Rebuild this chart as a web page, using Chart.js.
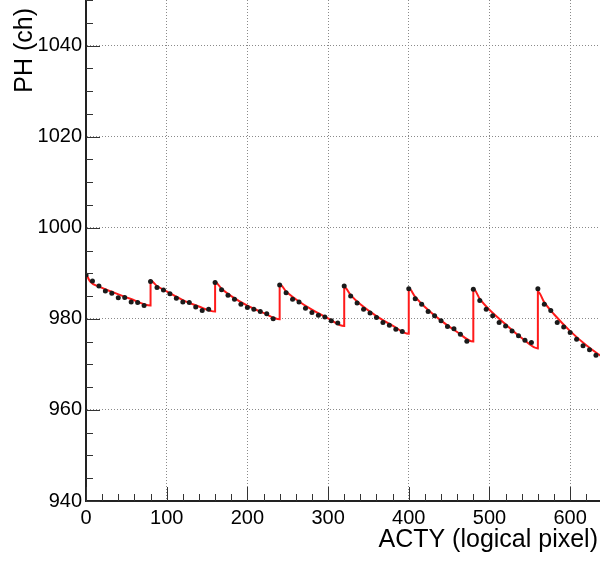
<!DOCTYPE html>
<html>
<head>
<meta charset="utf-8">
<script src="https://cdn.jsdelivr.net/npm/chart.js@4"></script>
<style>
  html, body { margin: 0; padding: 0; background: #fff; }
  #wrap { width: 600px; height: 561px; overflow: hidden; }
</style>
</head>
<body>
<div id="wrap"><canvas id="chart_ph" width="600" height="561"></canvas></div>
<script>
// Pulse height vs ACTY, measured points and the sawtooth fit

// Measured points (every 8 logical pixels)
const actyPoints = [
    0, 8, 16, 24, 32, 40, 48, 56, 64, 72,
    80, 88, 96, 104, 112, 120, 128, 136, 144, 152,
    160, 168, 176, 184, 192, 200, 208, 216, 224, 232,
    240, 248, 256, 264, 272, 280, 288, 296, 304, 312,
    320, 328, 336, 344, 352, 360, 368, 376, 384, 392,
    400, 408, 416, 424, 432, 440, 448, 456, 464, 472,
    480, 488, 496, 504, 512, 520, 528, 536, 544, 552,
    560, 568, 576, 584, 592, 600, 608, 616, 624, 632
];
const phPoints = [
    989.6, 988.3, 987.2, 986.1, 985.6, 984.6, 984.7, 983.7, 983.6, 982.9,
    988.2, 986.9, 986.3, 985.5, 984.5, 983.7, 983.6, 982.6, 981.8, 982.1,
    988.0, 986.4, 985.2, 984.3, 983.2, 982.5, 982.1, 981.6, 981.1, 980.0,
    987.4, 985.7, 984.3, 983.7, 982.3, 981.4, 980.8, 980.4, 979.6, 979.1,
    987.2, 985.0, 983.5, 982.1, 981.3, 980.3, 979.2, 978.6, 977.7, 977.2,
    986.6, 984.4, 983.2, 981.6, 980.7, 979.6, 978.3, 977.8, 976.6, 975.1,
    986.5, 984.0, 982.1, 980.7, 979.2, 978.4, 977.3, 976.3, 975.3, 974.8,
    986.6, 983.2, 981.8, 979.2, 978.2, 977.0, 975.5, 974.1, 973.2, 972.0
];

// Fit curve (red), one decay per 80 pixel block with a jump at each block edge
const actyFit = [
    0, 5, 17, 34, 55, 80,
    80, 88, 100, 120, 140, 160,
    160, 168, 180, 200, 220, 240,
    240, 248, 260, 280, 300, 320,
    320, 328, 340, 360, 380, 400,
    400, 408, 420, 440, 460, 480,
    480, 488, 500, 520, 540, 560,
    560, 568, 580, 600, 620, 640
];
const phFit = [
    990.0, 988.2, 987.0, 985.8, 984.4, 982.9,
    988.4, 987.2, 986.0, 984.1, 982.7, 981.6,
    988.1, 986.6, 985.0, 982.9, 981.3, 979.9,
    987.6, 986.0, 984.3, 982.0, 980.1, 978.4,
    987.0, 985.2, 983.2, 980.6, 978.5, 976.7,
    986.7, 984.8, 982.6, 979.6, 977.1, 975.0,
    986.6, 984.4, 982.0, 978.8, 975.8, 973.5,
    986.0, 983.6, 981.0, 977.3, 974.2, 971.6
];

// Axis ticks
const xTicks = [0, 100, 200, 300, 400, 500, 600];
const yTicks = [940, 960, 980, 1000, 1020, 1040];

const tickFont = { family: 'Liberation Sans', size: 20 };

// Draws the inward ticks and the axis titles
const frameDecor = {
    id: 'frameDecor',
    afterDraw(chart) {
        const ctx = chart.ctx;
        const xs = chart.scales.x;
        const ys = chart.scales.y;
        const area = chart.chartArea;
        ctx.save();
        ctx.strokeStyle = '#333';
        ctx.lineWidth = 1;
        ctx.beginPath();
        for (let v = 0; v <= xs.max; v += 20) {
            const px = Math.round(xs.getPixelForValue(v)) + 0.5;
            const len = v % 100 === 0 ? 14 : 7;
            ctx.moveTo(px, area.bottom);
            ctx.lineTo(px, area.bottom - len);
        }
        for (let v = 940; v <= ys.max; v += 5) {
            const py = Math.round(ys.getPixelForValue(v)) + 0.5;
            const len = (v - 940) % 20 === 0 ? 14 : 7;
            ctx.moveTo(area.left, py);
            ctx.lineTo(area.left + len, py);
        }
        ctx.stroke();

        ctx.fillStyle = '#000';
        ctx.font = '25px "Liberation Sans"';
        ctx.textAlign = 'right';
        ctx.textBaseline = 'alphabetic';
        ctx.fillText('ACTY (logical pixel)', 598, 547);

        ctx.translate(25, 8);
        ctx.rotate(-Math.PI / 2);
        ctx.textBaseline = 'middle';
        ctx.fillText('PH (ch)', 0, 0);
        ctx.restore();
    }
};

const ctx = document.getElementById('chart_ph').getContext('2d');
const phChart = new Chart(ctx, {
    type: 'line',
    data: {
        datasets: [
            {
                label: 'PH',
                data: actyPoints.map((x, i) => ({ x: x, y: phPoints[i] })),
                showLine: false,
                pointRadius: 2.5,
                pointBackgroundColor: '#1a1a1a',
                pointBorderWidth: 0,
                order: 0
            },
            {
                label: 'fit',
                data: actyFit.map((x, i) => ({ x: x, y: phFit[i] })),
                borderColor: '#ff1a1a',
                borderWidth: 2,
                pointRadius: 0,
                cubicInterpolationMode: 'monotone',
                order: 1
            }
        ]
    },
    options: {
        responsive: false,
        animation: false,
        layout: { autoPadding: false, padding: 0 },
        plugins: {
            legend: { display: false },
            tooltip: { enabled: false }
        },
        scales: {
            x: {
                type: 'linear',
                min: 0,
                max: 637,
                afterBuildTicks: scale => { scale.ticks = xTicks.map(v => ({ value: v })); },
                afterFit: scale => {
                    scale.height = 60;
                    scale.paddingLeft = 0;
                    scale.paddingRight = 0;
                },
                ticks: { font: tickFont, color: '#000', padding: 5, maxRotation: 0, autoSkip: false, callback: v => String(v) },
                grid: { color: '#8a8a8a', lineWidth: 1, drawTicks: false },
                border: { display: true, color: '#222', width: 2, dash: [1, 2] }
            },
            y: {
                type: 'linear',
                min: 940,
                max: 1050,
                afterBuildTicks: scale => { scale.ticks = yTicks.map(v => ({ value: v })); },
                afterFit: scale => {
                    scale.width = 86;
                    scale.paddingTop = 0;
                    scale.paddingBottom = 0;
                },
                ticks: { font: tickFont, color: '#000', padding: 4, autoSkip: false, callback: v => String(v) },
                grid: { color: '#8a8a8a', lineWidth: 1, drawTicks: false },
                border: { display: true, color: '#222', width: 2, dash: [1, 2] }
            }
        }
    },
    plugins: [frameDecor]
});
</script>
</body>
</html>
